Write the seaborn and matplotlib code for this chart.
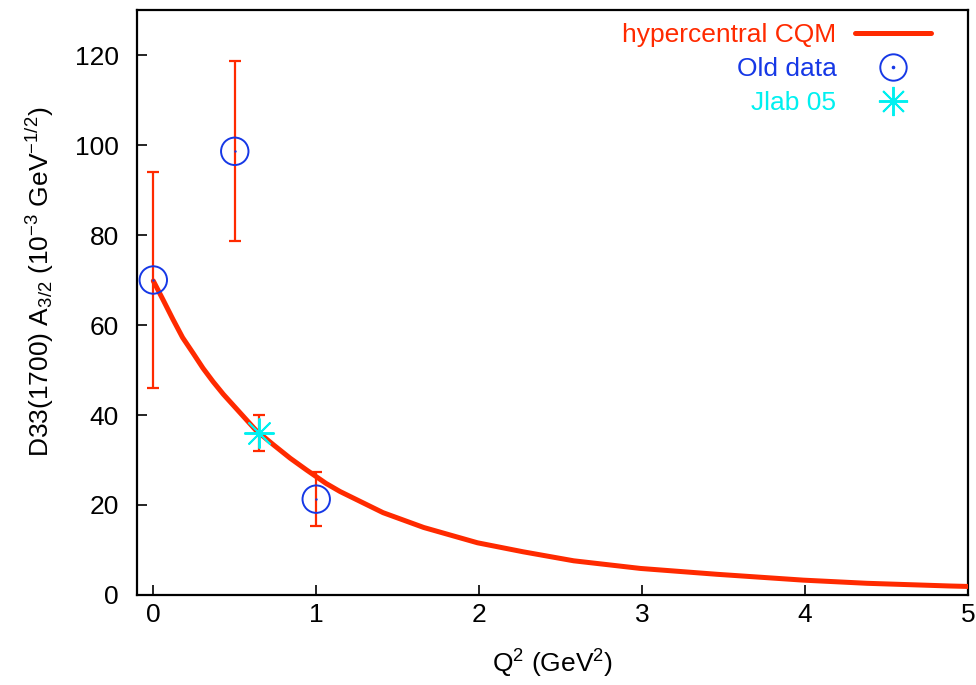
import matplotlib
matplotlib.use("Agg")
import matplotlib.pyplot as plt
from matplotlib.lines import Line2D
import seaborn as sns
import pandas as pd

# Hypercentral CQM prediction for the D33(1700) A_3/2 helicity amplitude
q2_model = [0.0, 0.06, 0.12, 0.18, 0.245, 0.305, 0.367, 0.43, 0.49, 0.55, 0.63,
            0.74, 0.84, 0.94, 1.06, 1.146, 1.41, 1.66, 1.99, 2.27, 2.58, 2.99,
            3.46, 3.99, 4.38, 4.89, 5.0]
a32_model = [69.8, 65.6, 61.3, 57.2, 53.7, 50.4, 47.4, 44.6, 42.2, 39.8, 36.6,
             33.3, 30.4, 27.8, 24.8, 23.0, 18.3, 15.0, 11.6, 9.6, 7.6, 5.9,
             4.6, 3.3, 2.6, 2.0, 1.9]

# Old data
q2_old = [0.0, 0.5, 1.0]
a32_old = [70.0, 98.6, 21.3]
err_old = [24.0, 20.0, 6.0]

# Jlab 05
q2_jlab = [0.65]
a32_jlab = [36.0]
err_jlab = [4.0]

RED = "#ff2a00"
BLUE = "#1638e6"
CYAN = "#00f0f0"

FS = 19

sns.set_theme(style="white")
plt.rcParams["font.family"] = ["Liberation Sans", "DejaVu Sans"]
plt.rcParams["mathtext.fontset"] = "custom"
plt.rcParams["mathtext.rm"] = "Liberation Sans"
plt.rcParams["mathtext.it"] = "Liberation Sans"

fig = plt.figure(figsize=(9.76, 6.85), dpi=100)
ax = fig.add_axes([137 / 976, 1 - 595 / 685, (968 - 137) / 976, (595 - 10) / 685])

model = pd.DataFrame({"q2": q2_model, "a": a32_model})
old = pd.DataFrame({"q2": q2_old, "a": a32_old})
jlab = pd.DataFrame({"q2": q2_jlab, "a": a32_jlab})

# error bars
ax.errorbar(q2_old, a32_old, yerr=err_old, fmt="none", ecolor=RED,
            elinewidth=1.6, capsize=4.5, capthick=1.6, zorder=2)
ax.errorbar(q2_jlab, a32_jlab, yerr=err_jlab, fmt="none", ecolor=RED,
            elinewidth=1.6, capsize=4.5, capthick=1.6, zorder=2)

# model curve
sns.lineplot(data=model, x="q2", y="a", color=RED, lw=3.6, ax=ax, zorder=3,
             legend=False, solid_joinstyle="round")

# data markers
sns.scatterplot(data=old, x="q2", y="a", marker="o", s=390, facecolors="none",
                edgecolor=BLUE, linewidth=1.4, ax=ax, zorder=4, legend=False)
sns.scatterplot(data=old, x="q2", y="a", marker="o", s=3, color=BLUE,
                linewidth=0, ax=ax, zorder=5, legend=False)
sns.scatterplot(data=jlab, x="q2", y="a", marker=(8, 2, 0), s=440,
                color=CYAN, linewidth=1.4, ax=ax, zorder=4, legend=False)

ax.set_xlim(-0.1, 5)
ax.set_ylim(0, 130)
ax.set_xticks([0, 1, 2, 3, 4, 5])
ax.set_yticks([0, 20, 40, 60, 80, 100, 120])

for s in ax.spines.values():
    s.set_color("black")
    s.set_linewidth(1.6)

ax.tick_params(axis="both", direction="in", length=7, width=1.2, color="black",
               labelsize=FS, labelcolor="black", top=False, right=False,
               bottom=True, left=True)
ax.tick_params(axis="x", pad=6)
ax.tick_params(axis="y", pad=13)

ax.set_xlabel(r"Q$^2$ (GeV$^2$)", fontsize=FS, color="black", labelpad=15)
ax.set_ylabel(r"D33(1700) A$_{3/2}$ (10$^{-3}$ GeV$^{-1/2}$)", fontsize=FS,
              color="black")
ax.yaxis.set_label_coords(-0.097, 0.535)

# legend: labels on the left, samples on the right
h_model = Line2D([], [], color=RED, lw=3.6)
h_old = (Line2D([], [], ls="none", marker="o", ms=19, mfc="none", mec=BLUE, mew=1.4),
         Line2D([], [], ls="none", marker="o", ms=1.6, color=BLUE))
h_jlab = Line2D([], [], ls="none", marker=(8, 2, 0), ms=21, color=CYAN, mew=1.4)
leg = ax.legend([h_model, h_old, h_jlab], ["hypercentral CQM", "Old data", "Jlab 05"],
                loc="upper right", bbox_to_anchor=(0.975, 1.004), frameon=False,
                markerfirst=False, fontsize=FS, handlelength=2.9,
                labelspacing=0.37, handletextpad=0.7, borderaxespad=0.2,
                labelcolor=[RED, BLUE, CYAN])

fig.savefig("out.png", dpi=100, facecolor="white")
